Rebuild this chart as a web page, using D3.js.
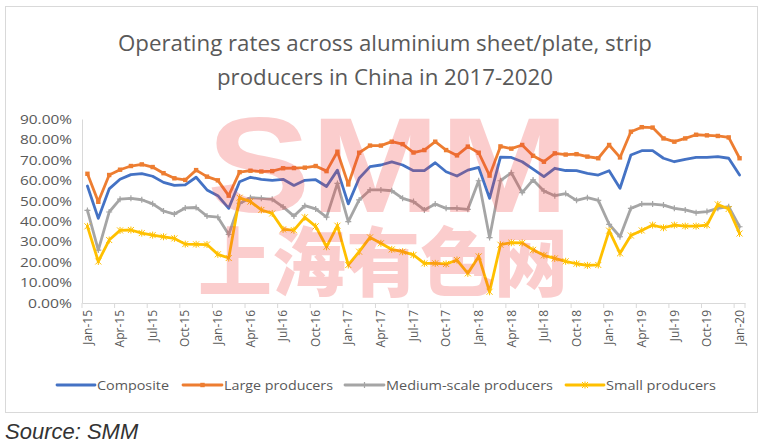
<!DOCTYPE html>
<html><head><meta charset="utf-8">
<script src="https://cdn.jsdelivr.net/npm/d3@7"></script>
<style>body{margin:0;background:#fff}svg{display:block}</style>
</head><body>
<svg id="c" width="769" height="443"></svg>
<script>
const titleLines = ["Operating rates across aluminium sheet/plate, strip", "producers in China in 2017-2020"];
const months = [];
const mn = ["Jan","Feb","Mar","Apr","May","Jun","Jul","Aug","Sep","Oct","Nov","Dec"];
for (let y = 15; y <= 20; y++) for (let m = 0; m < 12; m++) { if (y === 20 && m > 0) break; months.push(mn[m] + "-" + y); }
const yTicks = [0,10,20,30,40,50,60,70,80,90];
const seriesNames = ["Composite","Large producers","Medium-scale producers","Small producers"];
const composite = [57.2,41.4,55.8,60.5,62.8,63.3,62.0,59.0,57.5,57.8,61.5,55.3,52.5,46.3,59.3,61.5,60.5,60.0,60.5,57.5,60.0,60.3,57.0,65.0,48.5,61.0,66.7,67.5,69.0,67.5,64.7,64.7,68.6,64.2,62.1,65.0,66.3,51.2,71.4,71.2,69.1,65.5,61.8,65.9,64.8,64.7,63.4,62.6,64.7,56.1,72.4,74.5,74.5,70.8,69.1,70.3,71.2,71.2,71.6,70.8,62.6];
const large = [63.2,49.5,62.6,65.2,67.0,67.8,66.5,63.5,61.0,60.2,65.0,61.8,60.0,52.5,64.0,64.7,64.3,64.5,65.9,66.0,66.2,67.0,64.5,74.0,58.0,73.5,77.0,77.0,78.9,77.7,73.6,74.8,78.9,74.8,72.2,76.5,73.5,62.3,76.6,75.5,77.3,72.0,69.1,73.2,72.6,72.8,71.6,70.8,77.3,71.2,83.8,86.0,85.8,80.5,78.9,80.5,82.3,82.0,81.7,81.0,70.8];
const medium = [45.3,25.9,44.5,50.8,51.2,50.5,48.5,45.0,43.5,46.5,46.7,42.5,42.0,33.5,48.7,51.5,51.2,50.7,47.0,42.5,47.6,46.0,42.0,58.5,39.8,50.4,55.3,55.3,54.9,51.2,49.6,45.5,48.4,46.3,46.3,45.8,59.8,32.0,59.8,63.7,54.0,60.2,54.8,52.5,53.5,50.2,51.5,50.2,38.5,32.4,46.3,48.4,48.4,47.9,46.3,45.5,44.2,44.7,46.3,47.1,37.3];
const small = [37.5,20.3,30.8,35.5,35.7,34.2,33.2,32.4,31.6,28.8,28.7,28.6,23.8,22.0,51.5,49.6,45.5,43.8,36.0,35.6,41.9,37.5,27.5,37.8,18.6,25.1,32.1,29.2,26.2,25.1,23.5,19.4,19.4,19.1,21.0,14.5,22.8,5.5,28.5,29.5,29.4,26.0,23.3,21.8,20.4,19.2,18.4,18.6,35.4,24.3,33.0,35.5,38.1,36.8,38.1,37.6,37.6,38.1,48.2,46.0,34.0];
const colors = ["#4472C4","#ED7D31","#A5A5A5","#FFC000"];
const markers = ["none","square","plus","star"];

const svg = d3.select("#c");
const font = "'Open Sans', 'Noto Sans', sans-serif";
// frame
svg.append("rect").attr("x",5.5).attr("y",6.5).attr("width",752).attr("height",406).attr("fill","#fff").attr("stroke","#D9D9D9");

// title
const titleW = [534, 336];
svg.selectAll("text.title").data(titleLines).join("text").attr("class","title")
  .attr("x",(d,i)=>385 - titleW[i]/2).attr("y",(d,i)=>51+i*33.5)
  .attr("textLength",(d,i)=>titleW[i]).attr("lengthAdjust","spacingAndGlyphs")
  .attr("font-family",font).attr("font-size",21.5).attr("fill","#595959")
  .text(d=>d);

const x = d3.scaleBand().domain(months).range([82,745]);
const y = d3.scaleLinear().domain([0,90]).range([303,119]);

// y axis
const ya = svg.append("g").attr("transform","translate(82,0)")
  .call(d3.axisLeft(y).tickValues(yTicks).tickSize(0).tickPadding(10).tickFormat(d=>d3.format(".2f")(d)+"%"));
ya.select(".domain").attr("stroke","#D9D9D9");
ya.selectAll("text").attr("font-family",font).attr("font-size",13.5).attr("fill","#595959")
  .attr("textLength",function(){return this.textContent.length===6?52:44;}).attr("lengthAdjust","spacingAndGlyphs");

// x axis
const xa = svg.append("g").attr("transform","translate(0,303)")
  .call(d3.axisBottom(x).tickValues(months.filter((d,i)=>i%3===0)).tickSize(0).tickPadding(0));
xa.select(".domain").attr("stroke","#D9D9D9");
xa.selectAll(".tick line").remove();
xa.selectAll("text").attr("font-family",font).attr("font-size",12).attr("fill","#595959")
  .attr("text-anchor","end").attr("dy","0.35em").attr("transform","translate(0,7) rotate(-90)");
const tickBounds = months.map((d,i)=>i).filter(i=>i%3===0).map(i=>x(months[i]));
tickBounds.push(x.range()[1]);
svg.append("g").selectAll("line").data(tickBounds).join("line")
  .attr("x1",d=>d).attr("x2",d=>d).attr("y1",303).attr("y2",308).attr("stroke","#D9D9D9");

const data = [composite, large, medium, small];
const line = d3.line().x((d,i)=>x(months[i])+x.bandwidth()/2).y(d=>y(d));

function drawMarker(g, type, cx, cy, col){
  if(type==="square"){
    g.append("rect").attr("x",cx-2.2).attr("y",cy-2.2).attr("width",4.4).attr("height",4.4).attr("fill",col);
  } else if(type==="plus"){
    g.append("path").attr("d",`M${cx-3},${cy}H${cx+3}M${cx},${cy-3}V${cy+3}`).attr("stroke",col).attr("stroke-width",1.2);
  } else if(type==="star"){
    g.append("path").attr("d",`M${cx-3},${cy-3}L${cx+3},${cy+3}M${cx-3},${cy+3}L${cx+3},${cy-3}M${cx},${cy-3.5}V${cy+3.5}`).attr("stroke",col).attr("stroke-width",1);
  }
}

const plot = svg.append("g");
data.forEach((vals,si)=>{
  const g = plot.append("g");
  g.append("path").datum(vals).attr("d",line).attr("fill","none").attr("stroke",colors[si])
    .attr("stroke-width",2.8).attr("stroke-linejoin","round").attr("stroke-linecap","round");
  vals.forEach((v,i)=>drawMarker(g, markers[si], x(months[i])+x.bandwidth()/2, y(v), colors[si]));
});

// watermark (overlaid semi-transparent, as in the reference)
const wm = svg.append("g").attr("opacity",0.25).attr("pointer-events","none").attr("fill","#F03C3C");
wm.append("text").attr("x",207).attr("y",212).attr("textLength",362).attr("lengthAdjust","spacingAndGlyphs")
  .attr("font-family","'Liberation Sans', Arial, sans-serif").attr("font-weight",700).attr("font-size",135)
  .text("SMM");
wm.append("text").attr("x",198).attr("y",290).attr("textLength",370).attr("lengthAdjust","spacingAndGlyphs")
  .attr("font-family","'Noto Sans CJK SC', sans-serif").attr("font-weight",900).attr("font-size",75)
  .text("上海有色网");

// legend
const legendItems = [
  {x1:57,x2:95,tx:97,w:72},
  {x1:183,x2:222,tx:224,w:109},
  {x1:345,x2:384,tx:386,w:167},
  {x1:566,x2:604,tx:606,w:110}
];
const lg = svg.append("g");
legendItems.forEach((it,i)=>{
  lg.append("line").attr("x1",it.x1).attr("x2",it.x2).attr("y1",385).attr("y2",385).attr("stroke",colors[i]).attr("stroke-width",2.8).attr("stroke-linecap","round");
  drawMarker(lg, markers[i], (it.x1+it.x2)/2, 385, colors[i]);
  lg.append("text").attr("x",it.tx).attr("y",390).attr("font-family",font).attr("font-size",13.5).attr("fill","#595959")
    .attr("textLength",it.w).attr("lengthAdjust","spacingAndGlyphs").text(seriesNames[i]);
});

// source
svg.append("text").attr("x",5).attr("y",439).attr("font-family","'Liberation Sans Narrow', 'Liberation Sans', sans-serif")
  .attr("font-style","italic").attr("font-size",22).attr("fill","#333").text("Source: SMM");
</script>
</body></html>
